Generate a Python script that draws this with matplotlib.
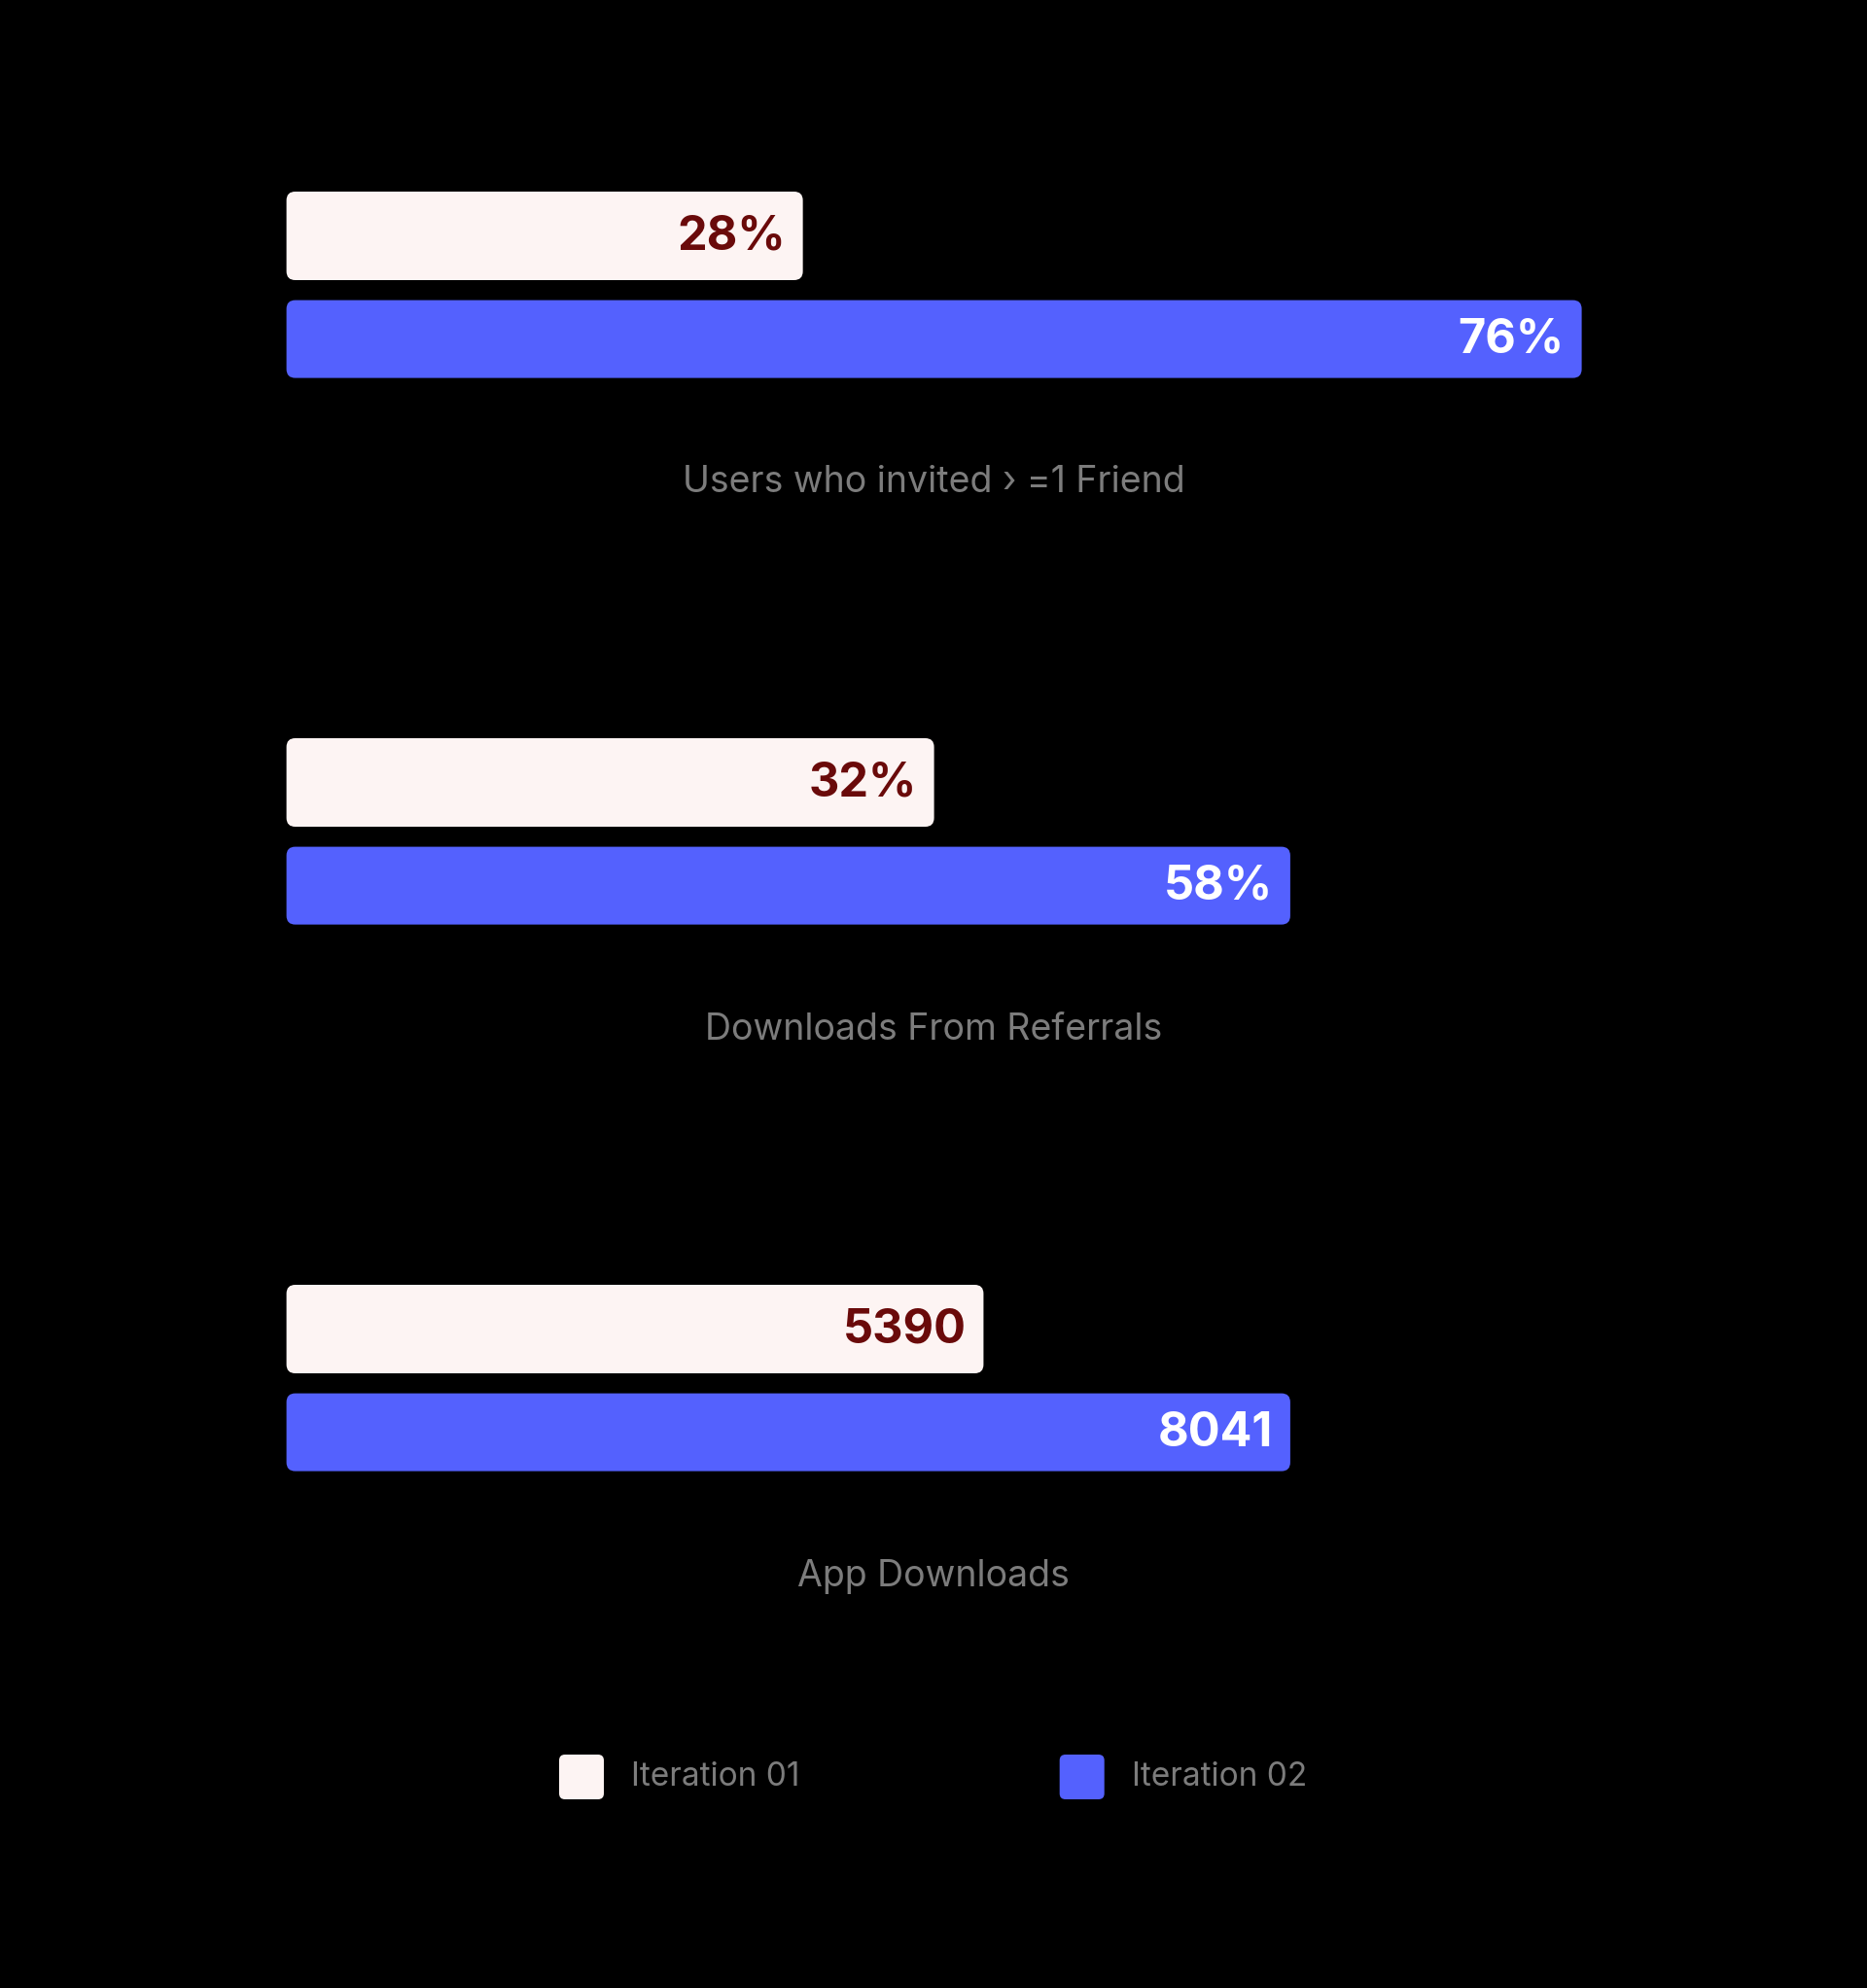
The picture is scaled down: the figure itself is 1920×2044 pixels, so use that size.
import matplotlib.pyplot as plt
from matplotlib.patches import FancyBboxPatch

# data
categories = ["Users who invited \u203a =1 Friend", "Downloads From Referrals", "App Downloads"]
series_names = ["Iteration 01", "Iteration 02"]
iter1_labels = ["28%", "32%", "5390"]
iter2_labels = ["76%", "58%", "8041"]
# bar lengths as drawn (the design does not share one scale between groups)
iter1_length = [30.3, 38.0, 40.9]
iter2_length = [76.0, 58.9, 58.9]

# colours
BG = "#000000"
WHITE_BAR = "#FDF4F3"
BLUE_BAR = "#5461FE"
DARK_RED = "#6A0A0A"
GREY = "#7C7C7C"

W, H, DPI = 1920, 2044, 100
px = 1332 / 76.0          # pixels per data unit (same on both axes)
x0 = 294.6 / px           # left edge of bars, in units

fig = plt.figure(figsize=(W / DPI, H / DPI), dpi=DPI, facecolor=BG)
ax = fig.add_axes([0, 0, 1, 1])
ax.set_facecolor(BG)
ax.set_xlim(-x0, (W / px) - x0)
ax.set_ylim(H / px, 0)
ax.axis("off")

font = ["Inter", "DejaVu Sans"]
pitch = 562 / px
y_first = 242.5 / px
h1 = 91 / px
h2 = 80 / px
gap = (348.6 - 242.5) / px
rad = 9 / px
pad = 18 / px

for i, cat in enumerate(categories):
    yc = y_first + i * pitch
    for length, lab, yy, hh, fc, tc in [
        (iter1_length[i], iter1_labels[i], yc, h1, WHITE_BAR, DARK_RED),
        (iter2_length[i], iter2_labels[i], yc + gap, h2, BLUE_BAR, "white"),
    ]:
        ax.add_patch(FancyBboxPatch((0, yy - hh / 2), length, hh,
                                    boxstyle=f"round,pad=0,rounding_size={rad}",
                                    fc=fc, ec="none"))
        ax.text(length - pad, yy + 1 / px, lab, ha="right", va="center",
                fontsize=35, fontweight="bold", color=tc, family=font)
    ax.text((W / 2) / px - x0, yc + 254 / px, cat, ha="center", va="center",
            fontsize=27, color=GREY, family=font)

# legend
leg_y = 1827 / px
sq = 46 / px
for name, fc, sx in zip(series_names, [WHITE_BAR, BLUE_BAR], [575, 1089.7]):
    left = sx / px - x0
    ax.add_patch(FancyBboxPatch((left, leg_y - sq / 2), sq, sq,
                                boxstyle=f"round,pad=0,rounding_size={6 / px}",
                                fc=fc, ec="none"))
    ax.text(left + 74 / px, leg_y, name, ha="left", va="center",
            fontsize=24, color=GREY, family=font)

fig.savefig("out.png", dpi=DPI, facecolor=BG)
